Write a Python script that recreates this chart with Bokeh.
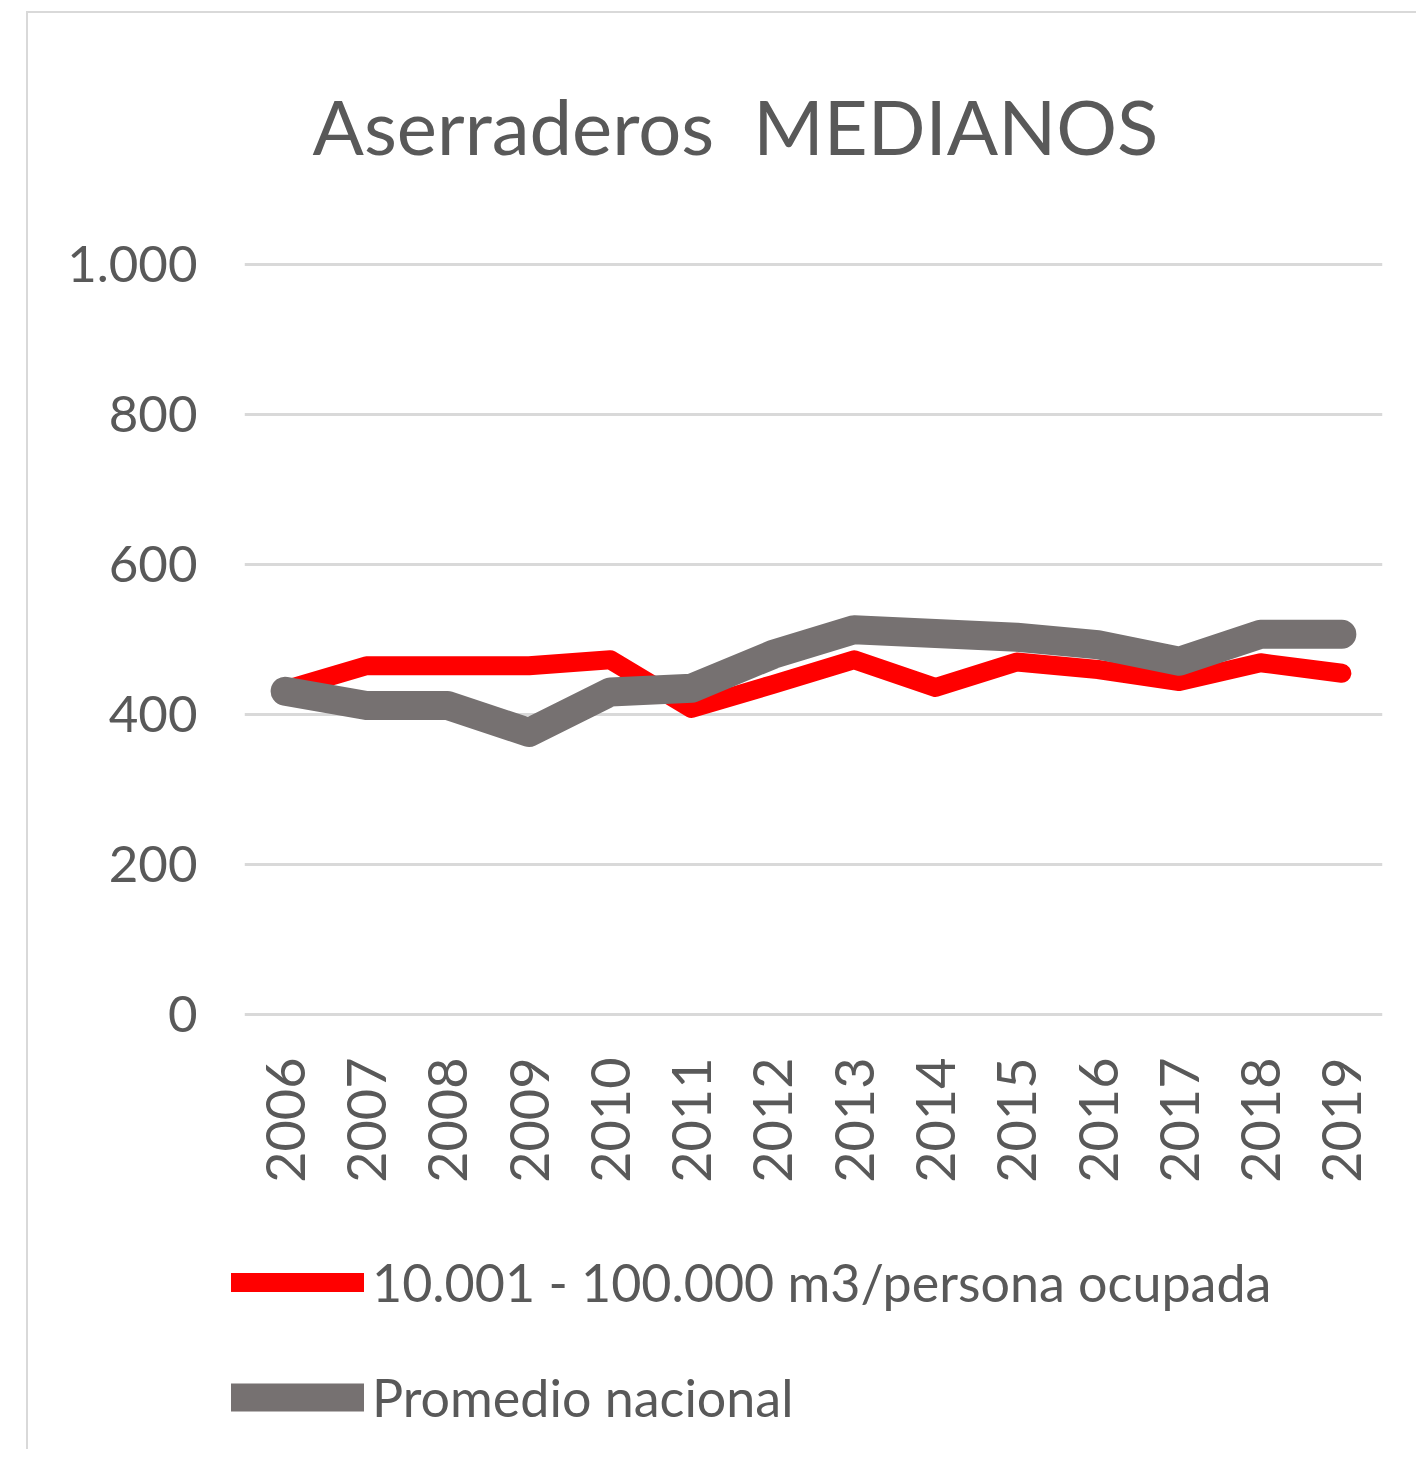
from bokeh.plotting import figure
from bokeh.layouts import column
from bokeh.models import Range1d, FixedTicker, Legend, LegendItem
from bokeh.embed import file_html
from bokeh.resources import INLINE
import math

years = [2006, 2007, 2008, 2009, 2010, 2011, 2012, 2013, 2014, 2015, 2016, 2017, 2018, 2019]
serie_medianos = [433, 465, 465, 465, 473, 408, 440, 473, 436, 470, 460, 444, 469, 455]
promedio_nacional = [431, 412, 412, 376, 430, 435, 480, 513, 508, 503, 493, 471, 507, 507]
y_ticks = [0, 200, 400, 600, 800, 1000]
y_tick_labels = ["0", "200", "400", "600", "800", "1.000"]
title_text = "Aserraderos\u00a0 MEDIANOS"
label_red = "10.001 - 100.000 m3/persona ocupada"
label_gray = "Promedio nacional"

FONT = "Lato"
TXT = "#595959"
RED = "#ff0000"
GRAY = "#767171"

p = figure(width=1388, height=1196, output_backend="svg", toolbar_location=None,
           x_range=Range1d(2005.5, 2019.5), y_range=Range1d(-4, 1125.3),
           frame_width=1138, frame_height=847,
           min_border_left=216, min_border_right=34, min_border_top=157,
           min_border_bottom=192, title=title_text)

p.title.text_font = FONT
p.title.text_font_size = "76px"
p.title.text_font_style = "normal"
p.title.text_color = TXT
p.title.align = "left"
p.title.offset = 68
p.title.standoff = 0

p.outline_line_color = None
p.background_fill_color = "white"
p.border_fill_color = "white"

p.xgrid.grid_line_color = None
p.ygrid.grid_line_color = "#d9d9d9"
p.ygrid.grid_line_width = 3
p.yaxis.ticker = FixedTicker(ticks=y_ticks)
p.yaxis.major_label_overrides = {t: l for t, l in zip(y_ticks, y_tick_labels)}
p.xaxis.ticker = FixedTicker(ticks=years)
p.xaxis.major_label_overrides = {y: str(y) for y in years}
p.xaxis.major_label_orientation = math.pi / 2

for ax in (p.xaxis[0], p.yaxis[0]):
    ax.axis_line_color = None
    ax.major_tick_line_color = None
    ax.minor_tick_line_color = None
    ax.major_label_text_font = FONT
    ax.major_label_text_color = TXT
p.yaxis.major_label_text_font_size = "51px"
p.xaxis.major_label_text_font_size = "54px"
p.yaxis.major_label_standoff = 41
p.xaxis.major_label_standoff = 34

p.line(years, serie_medianos, line_color=RED, line_width=19,
       line_cap="round", line_join="round")
p.line(years, promedio_nacional, line_color=GRAY, line_width=29,
       line_cap="round", line_join="round")

# legend panel (separate figure below the chart)
lg = figure(width=1388, height=240, output_backend="svg", toolbar_location=None,
            x_range=Range1d(0, 1), y_range=Range1d(0, 1),
            min_border_left=0, min_border_right=0, min_border_top=0, min_border_bottom=0)
lg.axis.visible = False
lg.grid.visible = False
lg.outline_line_color = None
lg.background_fill_color = "white"
lg.border_fill_color = "white"
try:
    p.frame_align = False
    lg.frame_align = False
except Exception:
    pass
lr = lg.line(years, serie_medianos, line_color=RED, line_width=19, line_cap="round")
lgy = lg.line(years, promedio_nacional, line_color=GRAY, line_width=28, line_cap="round")
legend = Legend(items=[LegendItem(label=label_red, renderers=[lr]),
                       LegendItem(label=label_gray, renderers=[lgy])],
                location=(203, 21), orientation="vertical",
                glyph_width=133, glyph_height=60, label_height=60,
                spacing=53, padding=0, margin=0, label_standoff=8,
                label_text_font=FONT, label_text_font_size="52px",
                label_text_color=TXT, border_line_color=None,
                background_fill_alpha=0)
lg.add_layout(legend, "center")

layout = column(p, lg)
layout.styles = {"border-left": "2px solid #d9d9d9", "border-top": "2px solid #d9d9d9",
                 "margin-left": "26px", "margin-top": "11px"}

open("out.html", "w").write(file_html(layout, INLINE))
